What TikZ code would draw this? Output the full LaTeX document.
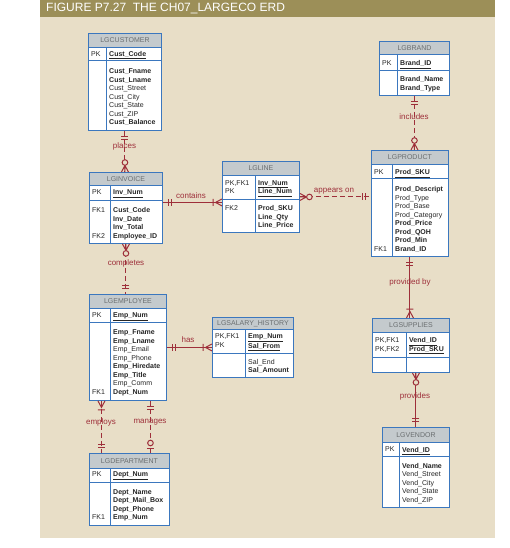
\documentclass[tikz,border=0pt]{standalone}
\usepackage{fontspec}
\setmainfont{Liberation Sans}
\definecolor{pagebeige}{HTML}{E8DEC7}
\definecolor{titleolive}{HTML}{9C8F58}
\definecolor{headgrey}{HTML}{C4CACD}
\definecolor{headtext}{HTML}{6A6E70}
\definecolor{boxblue}{HTML}{3B77BE}
\definecolor{relred}{HTML}{9E2F3A}
\tikzset{
	tabbox/.style={draw=boxblue,fill=white,line width=0.9pt,anchor=north west,inner sep=0pt},
	tabhead/.style={draw=boxblue,fill=headgrey,line width=0.9pt,anchor=north west,inner sep=0pt,text=headtext,font=\fontsize{7}{8}\selectfont},
	tabline/.style={draw=boxblue,line width=0.9pt},
	keytext/.style={anchor=north west,inner sep=0pt,align=left,text=black!85,font=\fontsize{7}{8.5}\selectfont},
	attrtext/.style={keytext},
	relline/.style={draw=relred,line width=1pt},
	reldash/.style={relline,dash pattern=on 5pt off 3pt},
	rellabel/.style={text=relred,inner sep=1pt,font=\fontsize{8}{9}\selectfont},
	mone/.pic={\draw[relline] (6,-3.5) -- (6,3.5) (9,-3.5) -- (9,3.5);},
	zmany/.pic={\draw[relline] (0,3.5) -- (6.5,0) -- (0,-3.5) (0,0) -- (6.5,0);
		\draw[relline,fill=pagebeige] (9.5,0) circle (2.8);},
	omany/.pic={\draw[relline] (0,3.5) -- (6.5,0) -- (0,-3.5) (9,3.5) -- (9,-3.5);},
	zone/.pic={\draw[relline] (5,3.5) -- (5,-3.5);
		\draw[relline,fill=pagebeige] (10,0) circle (2.8);}
}
\begin{document}
\begin{tikzpicture}[x=1pt,y=1pt]
	\fill[white] (0,0) rectangle (510,-548);
	\fill[pagebeige] (40,-17) rectangle (495,-538);
	\fill[titleolive] (40,0) rectangle (495,-17);
	\useasboundingbox (0,0) rectangle (510,-548);
	\node[anchor=west,inner sep=0pt,text=white,font=\fontsize{12}{14}\selectfont] (title) at (46,-8.5) {FIGURE P7.27\ \ THE CH07\_LARGECO ERD};
	% LGCUSTOMER
	\node[tabbox,minimum width=73pt,minimum height=97pt] (cust) at (88,-33) {};
	\node[tabhead,minimum width=73pt,minimum height=14pt] (custhead) at (cust.north west) {LGCUSTOMER};
	\draw[tabline] (88,-60) -- (161,-60) (106,-47) -- (106,-130);
	\node[keytext] (custpk) at (91,-51) {PK};
	\node[keytext] (custkey) at (109,-51) {\textbf{\underline{Cust\_Code}}};
	\node[attrtext] (custattr) at (109,-68.5) {\textbf{Cust\_Fname}\\\textbf{Cust\_Lname}\\Cust\_Street\\Cust\_City\\Cust\_State\\Cust\_ZIP\\\textbf{Cust\_Balance}};
	% LGBRAND
	\node[tabbox,minimum width=70pt,minimum height=54pt] (brand) at (379,-41) {};
	\node[tabhead,minimum width=70pt,minimum height=13pt] (brandhead) at (brand.north west) {LGBRAND};
	\draw[tabline] (379,-70) -- (449,-70) (397,-54) -- (397,-95);
	\node[keytext] (brandpk) at (382,-60.2) {PK};
	\node[keytext] (brandkey) at (400,-60.2) {\textbf{\underline{Brand\_ID}}};
	\node[attrtext] (brandattr) at (400,-76.5) {\textbf{Brand\_Name}\\\textbf{Brand\_Type}};
	% LGINVOICE
	\node[tabbox,minimum width=73pt,minimum height=71pt] (inv) at (89,-172) {};
	\node[tabhead,minimum width=73pt,minimum height=13pt] (invhead) at (inv.north west) {LGINVOICE};
	\draw[tabline] (89,-200) -- (162,-200) (110,-185) -- (110,-243);
	\node[keytext] (invpk) at (92,-189.5) {PK};
	\node[keytext] (invkey) at (113,-189.5) {\textbf{\underline{Inv\_Num}}};
	\node[keytext] (invfka) at (92,-207.5) {FK1};
	\node[keytext] (invfkb) at (92,-233) {FK2};
	\node[attrtext] (invattr) at (113,-207.5) {\textbf{Cust\_Code}\\\textbf{Inv\_Date}\\\textbf{Inv\_Total}\\\textbf{Employee\_ID}};
	% LGLINE
	\node[tabbox,minimum width=77pt,minimum height=71pt] (lin) at (222,-161) {};
	\node[tabhead,minimum width=77pt,minimum height=14pt] (linhead) at (lin.north west) {LGLINE};
	\draw[tabline] (222,-199) -- (299,-199) (255,-175) -- (255,-232);
	\node[keytext] (linpk) at (225,-180.2) {PK,FK1\\PK};
	\node[keytext] (linkey) at (258,-180.2) {\textbf{\underline{Inv\_Num}}\\\textbf{\underline{Line\_Num}}};
	\node[keytext] (linfk) at (225,-205.5) {FK2};
	\node[attrtext] (linattr) at (258,-205.5) {\textbf{Prod\_SKU}\\\textbf{Line\_Qty}\\\textbf{Line\_Price}};
	% LGPRODUCT
	\node[tabbox,minimum width=77pt,minimum height=106pt] (prod) at (371,-150) {};
	\node[tabhead,minimum width=77pt,minimum height=14pt] (prodhead) at (prod.north west) {LGPRODUCT};
	\draw[tabline] (371,-178) -- (448,-178) (392,-164) -- (392,-256);
	\node[keytext] (prodpk) at (374,-169.2) {PK};
	\node[keytext] (prodkey) at (395,-169.2) {\textbf{\underline{Prod\_SKU}}};
	\node[keytext] (prodfk) at (374,-246) {FK1};
	\node[attrtext] (prodattr) at (395,-186.5) {\textbf{Prod\_Descript}\\Prod\_Type\\Prod\_Base\\Prod\_Category\\\textbf{Prod\_Price}\\\textbf{Prod\_QOH}\\\textbf{Prod\_Min}\\\textbf{Brand\_ID}};
	% LGEMPLOYEE
	\node[tabbox,minimum width=77pt,minimum height=106pt] (emp) at (89,-294) {};
	\node[tabhead,minimum width=77pt,minimum height=14pt] (emphead) at (emp.north west) {LGEMPLOYEE};
	\draw[tabline] (89,-322) -- (166,-322) (110,-308) -- (110,-400);
	\node[keytext] (emppk) at (92,-312.5) {PK};
	\node[keytext] (empkey) at (113,-312.5) {\textbf{\underline{Emp\_Num}}};
	\node[keytext] (empfk) at (92,-389.3) {FK1};
	\node[attrtext] (empattr) at (113,-329.8) {\textbf{Emp\_Fname}\\\textbf{Emp\_Lname}\\Emp\_Email\\Emp\_Phone\\\textbf{Emp\_Hiredate}\\\textbf{Emp\_Title}\\Emp\_Comm\\\textbf{Dept\_Num}};
	% LGSALARY_HISTORY
	\node[tabbox,minimum width=81pt,minimum height=60pt] (sal) at (212,-317) {};
	\node[tabhead,minimum width=81pt,minimum height=12pt] (salhead) at (sal.north west) {LGSALARY\_HISTORY};
	\draw[tabline] (212,-353) -- (293,-353) (245,-329) -- (245,-377);
	\node[keytext] (salpk) at (215,-333.5) {PK,FK1\\PK};
	\node[keytext] (salkey) at (248,-333.5) {\textbf{\underline{Emp\_Num}}\\\textbf{\underline{Sal\_From}}};
	\node[attrtext] (salattr) at (248,-359.2) {Sal\_End\\\textbf{Sal\_Amount}};
	% LGDEPARTMENT
	\node[tabbox,minimum width=80pt,minimum height=72pt] (dept) at (89,-453) {};
	\node[tabhead,minimum width=80pt,minimum height=15pt] (depthead) at (dept.north west) {LGDEPARTMENT};
	\draw[tabline] (89,-482) -- (169,-482) (110,-468) -- (110,-525);
	\node[keytext] (deptpk) at (92,-471.8) {PK};
	\node[keytext] (deptkey) at (113,-471.8) {\textbf{\underline{Dept\_Num}}};
	\node[keytext] (deptfk) at (92,-514.7) {FK1};
	\node[attrtext] (deptattr) at (113,-489.2) {\textbf{Dept\_Name}\\\textbf{Dept\_Mail\_Box}\\\textbf{Dept\_Phone}\\\textbf{Emp\_Num}};
	% LGSUPPLIES
	\node[tabbox,minimum width=77pt,minimum height=54pt] (supp) at (372,-318) {};
	\node[tabhead,minimum width=77pt,minimum height=14pt] (supphead) at (supp.north west) {LGSUPPLIES};
	\draw[tabline] (372,-357) -- (449,-357) (406,-332) -- (406,-372);
	\node[keytext] (supppk) at (375,-337.5) {PK,FK1\\PK,FK2};
	\node[keytext] (suppkey) at (409,-337.5) {\textbf{\underline{Vend\_ID}}\\\textbf{\underline{Prod\_SKU}}};
	% LGVENDOR
	\node[tabbox,minimum width=67pt,minimum height=80pt] (vend) at (382,-427) {};
	\node[tabhead,minimum width=67pt,minimum height=15pt] (vendhead) at (vend.north west) {LGVENDOR};
	\draw[tabline] (382,-456) -- (449,-456) (399,-442) -- (399,-507);
	\node[keytext] (vendpk) at (385,-446.8) {PK};
	\node[keytext] (vendkey) at (402,-446.8) {\textbf{\underline{Vend\_ID}}};
	\node[attrtext] (vendattr) at (402,-463.2) {\textbf{Vend\_Name}\\Vend\_Street\\Vend\_City\\Vend\_State\\Vend\_ZIP};
	% relationships
	\coordinate (invtop) at (cust.south |- inv.north);
	\draw[reldash] (cust.south) -- (invtop);
	\pic[rotate=-90] at (cust.south) {mone};
	\pic[rotate=90] at (invtop) {zmany};
	\node[rellabel] (placeslbl) at (124.5,-146) {places};
	\coordinate (prodtop) at (brand.south |- prod.north);
	\draw[reldash] (brand.south) -- (prodtop);
	\pic[rotate=-90] at (brand.south) {mone};
	\pic[rotate=90] at (prodtop) {zmany};
	\node[rellabel] (includeslbl) at (414,-117) {includes};
	\coordinate (invright) at ([yshift=5.5pt]inv.east);
	\coordinate (linleft) at (invright -| lin.west);
	\draw[relline] (invright) -- (linleft);
	\pic at (invright) {mone};
	\pic[rotate=180] at (linleft) {omany};
	\node[rellabel] (containslbl) at (191,-196) {contains};
	\coordinate (prodleft) at (lin.east -| prod.west);
	\draw[reldash] (lin.east) -- (prodleft);
	\pic at (lin.east) {zmany};
	\pic[rotate=180] at (prodleft) {mone};
	\node[rellabel] (appearslbl) at (334,-191) {appears on};
	\coordinate (emptop) at (inv.south |- emp.north);
	\draw[reldash] (inv.south) -- (emptop);
	\pic[rotate=-90] at (inv.south) {zmany};
	\pic[rotate=90] at (emptop) {mone};
	\node[rellabel] (completeslbl) at (126,-263) {completes};
	\coordinate (supptop) at (prod.south |- supp.north);
	\draw[relline] (prod.south) -- (supptop);
	\pic[rotate=-90] at (prod.south) {mone};
	\pic[rotate=90] at (supptop) {omany};
	\node[rellabel] (providedlbl) at (410,-282) {provided by};
	\coordinate (suppbot) at (vend.north |- supp.south);
	\draw[relline] (suppbot) -- (vend.north);
	\pic[rotate=-90] at (suppbot) {zmany};
	\pic[rotate=90] at (vend.north) {mone};
	\node[rellabel] (provideslbl) at (415,-396) {provides};
	\coordinate (salleft) at (emp.east -| sal.west);
	\draw[relline] (emp.east) -- (salleft);
	\pic at (emp.east) {mone};
	\pic[rotate=180] at (salleft) {omany};
	\node[rellabel] (haslbl) at (188,-340) {has};
	\coordinate (empa) at ([xshift=-26.5pt]emp.south);
	\coordinate (depta) at (empa |- dept.north);
	\draw[reldash] (empa) -- (depta);
	\pic[rotate=-90] at (empa) {omany};
	\pic[rotate=90] at (depta) {mone};
	\node[rellabel] (employslbl) at (101,-422) {employs};
	\coordinate (empb) at ([xshift=22.5pt]emp.south);
	\coordinate (deptb) at (empb |- dept.north);
	\draw[reldash] (empb) -- (deptb);
	\pic[rotate=-90] at (empb) {mone};
	\pic[rotate=90] at (deptb) {zone};
	\node[rellabel] (manageslbl) at (150,-422) {manages};
\end{tikzpicture}
\end{document}
